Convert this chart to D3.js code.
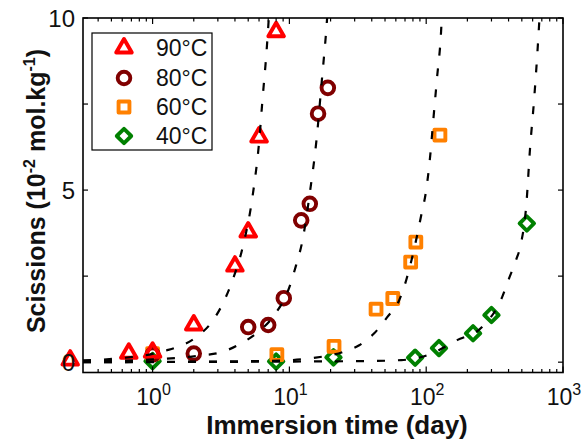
<!DOCTYPE html>
<html>
<head>
<meta charset="utf-8">
<script src="https://cdn.jsdelivr.net/npm/d3@7"></script>
<style>
  html, body { margin: 0; padding: 0; background: #fff; }
  svg { display: block; font-family: "Liberation Sans", Arial, sans-serif; }
</style>
</head>
<body>
<svg id="chart" width="583" height="442"></svg>
<script>
// ---- data ----
const seriesNames = ["90°C", "80°C", "60°C", "40°C"];
const seriesColors = ["#ff0000", "#800000", "#ff8000", "#008000"];

const t90 = [0.25, 0.67, 1.0, 2.0, 4.0, 5.0, 6.0, 8.0];
const s90 = [0.06, 0.26, 0.29, 1.08, 2.79, 3.78, 6.54, 9.6];

const t80 = [1.0, 2.0, 5.0, 7.0, 9.1, 12.2, 14.1, 16.2, 19.1];
const s80 = [0.22, 0.25, 1.02, 1.08, 1.86, 4.12, 4.6, 7.22, 7.97];

const t60 = [1.0, 8.1, 21.2, 43, 57, 77, 84, 126];
const s60 = [0.25, 0.22, 0.46, 1.54, 1.85, 2.91, 3.49, 6.6];

const t40 = [1.0, 8.0, 21.0, 83, 124, 220, 300, 544];
const s40 = [0.03, 0.02, 0.14, 0.13, 0.41, 0.84, 1.37, 4.03];

// dashed fitted curves
const fit90t = [0.31, 0.6, 1.0, 1.26, 1.52, 2.09, 2.7, 3.35, 3.84, 4.53, 5.37, 6.04, 6.35, 6.8, 7.15];
const fit90s = [0.05, 0.12, 0.24, 0.34, 0.44, 0.73, 1.16, 1.8, 2.38, 3.3, 4.8, 6.5, 7.6, 9.0, 10.3];

const fit80t = [0.31, 1.0, 2.32, 3.19, 4.17, 5.74, 7.77, 10.0, 11.2, 12.4, 14.2, 15.7, 17.4, 18.6, 19.1];
const fit80s = [0.02, 0.08, 0.2, 0.29, 0.49, 0.84, 1.37, 2.18, 2.82, 3.49, 5.0, 6.37, 8.34, 9.65, 10.3];

const fit60t = [0.31, 5, 10.5, 14.7, 24.4, 32.4, 41.7, 51.9, 63.5, 71.4, 85.9, 92, 100, 107, 112.5, 120, 128.5, 131];
const fit60s = [0.0, 0.03, 0.06, 0.12, 0.29, 0.49, 0.84, 1.31, 1.8, 2.38, 3.69, 4.27, 5.0, 6.0, 7.0, 8.26, 9.62, 10.3];

const fit40t = [0.31, 33.5, 65.7, 102, 168, 256, 359, 404, 454, 494, 540, 574, 614, 650, 680];
const fit40s = [0.0, 0.03, 0.06, 0.2, 0.64, 1.02, 1.89, 2.44, 2.97, 3.46, 4.6, 6.2, 7.6, 9.0, 10.3];

const xMajorTicks = [1, 10, 100, 1000];
const xTickExponents = ["0", "1", "2", "3"];
const yTicks = [0, 2.5, 5, 7.5, 10];
const yTickLabels = ["0", "", "5", "", "10"];

// ---- layout ----
const svg = d3.select("#chart");
const L = 83, R = 563, T = 18, B = 372.5;
const x = d3.scaleLog().domain([0.31, 1000]).range([L, R]);
const y = d3.scaleLinear().domain([-0.3, 10]).range([B, T]);

svg.append("defs").append("clipPath").attr("id", "plotclip")
  .append("rect").attr("x", L).attr("y", T).attr("width", R - L).attr("height", B - T);

// markers
const symbols = [
  d3.symbol(d3.symbolTriangle, 105),
  d3.symbol(d3.symbolCircle, 125),
  d3.symbol(d3.symbolSquare, 118),
  d3.symbol(d3.symbolSquare, 104)
];
const rotations = [0, 0, 0, 45];
const ts = [t90, t80, t60, t40];
const ss = [s90, s80, s60, s40];

const markerG = svg.append("g");
[3, 2, 1, 0].forEach(i => {
  const pts = ts[i].map((t, k) => [t, ss[i][k]]);
  markerG.selectAll(null).data(pts).enter().append("path")
    .attr("d", symbols[i]())
    .attr("transform", d => `translate(${x(d[0])},${y(d[1])}) rotate(${rotations[i]})`)
    .attr("fill", "none")
    .attr("stroke", seriesColors[i])
    .attr("stroke-width", 3.9)
    .attr("stroke-linejoin", "round");
});

// curves
const fits = [[fit90t, fit90s], [fit80t, fit80s], [fit60t, fit60s], [fit40t, fit40s]];
const line = d3.line().x(d => x(d[0])).y(d => y(d[1])).curve(d3.curveMonotoneX);
const curveG = svg.append("g").attr("clip-path", "url(#plotclip)");
fits.forEach(f => {
  const pts = f[0].map((t, k) => [t, f[1][k]]);
  curveG.append("path").attr("d", line(pts))
    .attr("fill", "none").attr("stroke", "#000")
    .attr("stroke-width", 2.2).attr("stroke-dasharray", "8,13");
});

// frame
svg.append("rect").attr("x", L).attr("y", T).attr("width", R - L).attr("height", B - T)
  .attr("fill", "none").attr("stroke", "#000").attr("stroke-width", 1.6);

// x ticks (log) top & bottom, inward
const axisG = svg.append("g").attr("stroke", "#000").attr("stroke-width", 1.2);
const allX = x.ticks().filter(v => v >= 0.31 && v <= 1000);
allX.forEach(v => {
  const major = xMajorTicks.includes(v);
  const len = major ? 6 : 3.5;
  axisG.append("line").attr("x1", x(v)).attr("x2", x(v)).attr("y1", B).attr("y2", B - len);
  axisG.append("line").attr("x1", x(v)).attr("x2", x(v)).attr("y1", T).attr("y2", T + len);
});
// y ticks left & right
yTicks.forEach(v => {
  axisG.append("line").attr("x1", L).attr("x2", L + 5).attr("y1", y(v)).attr("y2", y(v));
  axisG.append("line").attr("x1", R).attr("x2", R - 5).attr("y1", y(v)).attr("y2", y(v));
});

// x tick labels
xMajorTicks.forEach((v, i) => {
  const tx = svg.append("text").attr("x", x(v) + 1).attr("y", 405)
    .attr("text-anchor", "middle").attr("font-size", 23).attr("fill", "#111");
  tx.append("tspan").text("10");
  tx.append("tspan").attr("dy", -10).attr("font-size", 16).text(xTickExponents[i]);
});
// y tick labels
yTicks.forEach((v, i) => {
  if (!yTickLabels[i]) return;
  svg.append("text").attr("x", L - 8).attr("y", y(v)).attr("dy", "0.36em")
    .attr("text-anchor", "end").attr("font-size", 24).attr("fill", "#111").text(yTickLabels[i]);
});

// axis titles
svg.append("text").attr("x", 337).attr("y", 434).attr("text-anchor", "middle")
  .attr("font-size", 26).attr("font-weight", "bold").attr("fill", "#111")
  .text("Immersion time (day)");

const yt = svg.append("text").attr("transform", "translate(45,191) rotate(-90)")
  .attr("text-anchor", "middle").attr("font-size", 25).attr("font-weight", "bold").attr("fill", "#111");
yt.append("tspan").text("Scissions (10");
yt.append("tspan").attr("dy", -10).attr("font-size", 16).text("-2");
yt.append("tspan").attr("dy", 10).text(" mol.kg");
yt.append("tspan").attr("dy", -10).attr("font-size", 16).text("-1");
yt.append("tspan").attr("dy", 10).text(")");

// legend
const lg = svg.append("g");
lg.append("rect").attr("x", 92).attr("y", 33).attr("width", 120).attr("height", 117)
  .attr("fill", "#fff").attr("stroke", "#000").attr("stroke-width", 1.2);
const rowY = [48, 78, 107, 136];
seriesNames.forEach((n, i) => {
  lg.append("path").attr("d", symbols[i]())
    .attr("transform", `translate(124,${rowY[i]}) rotate(${rotations[i]})`)
    .attr("fill", "none").attr("stroke", seriesColors[i])
    .attr("stroke-width", 3.9).attr("stroke-linejoin", "round");
  lg.append("text").attr("x", 156).attr("y", rowY[i]).attr("dy", "0.36em")
    .attr("font-size", 23).attr("fill", "#111").text(n);
});
</script>
</body>
</html>
